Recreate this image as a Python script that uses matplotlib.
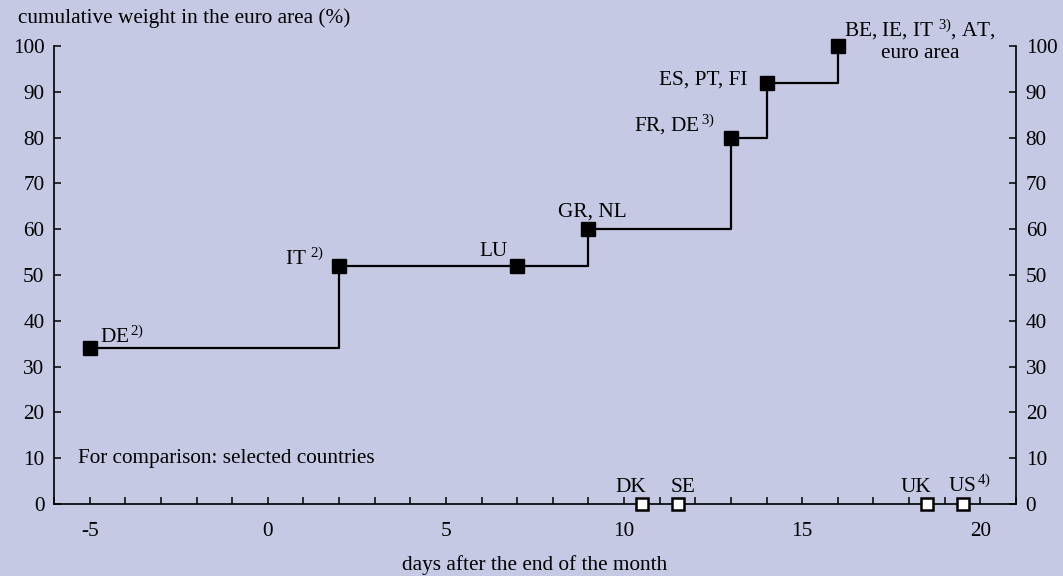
import matplotlib
matplotlib.use("Agg")
import matplotlib.pyplot as plt
from matplotlib.ticker import MultipleLocator

plt.rcParams["font.family"] = ["Liberation Serif", "DejaVu Serif"]
plt.rcParams["mathtext.fontset"] = "custom"
plt.rcParams["mathtext.rm"] = "Liberation Serif"
plt.rcParams["mathtext.it"] = "Liberation Serif"
plt.rcParams["axes.unicode_minus"] = False

BG = "#c5c9e4"
FS = 15.3

# euro area release timing (days after end of month) and cumulative weight (%)
ea_days = [-5, 2, 7, 9, 13, 14, 16]
ea_weight = [34, 52, 52, 60, 80, 92, 100]
ea_labels = ["DE$^{\\,2)}$", "IT $^{2)}$", "LU", "GR, NL", "FR, DE$^{\\,3)}$",
             "ES, PT, FI", "BE, IE, IT $^{3)}$, AT,\neuro area"]

# comparison countries
cmp_days = [10.5, 11.5, 18.5, 19.5]
cmp_weight = [0, 0, 0, 0]
cmp_labels = ["DK", "SE", "UK", "US$^{\\,4)}$"]

# label placement (offsets/alignment only)
ea_lab_pos = [(-4.72, 35.2, "left"), (1.58, 52.2, "right"), (6.72, 54.2, "right"),
              (9.12, 62.8, "center"), (12.55, 81.4, "right"), (13.45, 91.5, "right"),
              (18.3, 97.3, "center")]
cmp_lab_pos = [(10.2, 2.6, "center"), (11.65, 2.6, "center"), (18.18, 2.6, "center"),
               (19.1, 2.6, "left")]

fig = plt.figure(figsize=(10.63, 5.76), dpi=100, facecolor=BG)
ax = fig.add_axes([0.0508, 0.125, 0.905, 0.795])
ax.set_facecolor(BG)

ax.plot(ea_days, ea_weight, drawstyle="steps-post", color="black", lw=1.6, zorder=2)
ax.plot(ea_days, ea_weight, "s", color="black", ms=10, clip_on=False, zorder=3)
ax.plot(cmp_days, cmp_weight, "s", mfc="white", mec="black", mew=1.8, ms=9,
        clip_on=False, zorder=3)

for lab, (x, y, ha) in zip(ea_labels, ea_lab_pos):
    ax.text(x, y, lab, ha=ha, va="baseline", fontsize=FS, linespacing=1.2,
            multialignment="center")
for lab, (x, y, ha) in zip(cmp_labels, cmp_lab_pos):
    ax.text(x, y, lab, ha=ha, va="baseline", fontsize=FS)

ax.text(-5.33, 10, "For comparison: selected countries", ha="left", va="center", fontsize=FS)

ax.set_xlim(-6, 21)
ax.set_ylim(0, 100)
ax.xaxis.set_major_locator(MultipleLocator(5))
ax.xaxis.set_minor_locator(MultipleLocator(1))
ax.yaxis.set_major_locator(MultipleLocator(10))
ax.spines["top"].set_visible(False)
for s in ["left", "right", "bottom"]:
    ax.spines[s].set_linewidth(1.2)
ax.tick_params(axis="y", which="both", direction="in", length=5, width=1.1,
               left=True, right=True, labelleft=True, labelright=True, labelsize=FS, pad=7)
ax.tick_params(axis="x", which="both", direction="in", length=5, width=1.1,
               labelsize=FS, pad=13)
ax.set_xticklabels([], minor=True)

fig.text(0.017, 0.985, "cumulative weight in the euro area (%)", ha="left", va="top", fontsize=FS)
fig.text(0.503, 0.019, "days after the end of the month", ha="center", va="center", fontsize=FS)

fig.savefig("out.png", dpi=100, facecolor=BG)
